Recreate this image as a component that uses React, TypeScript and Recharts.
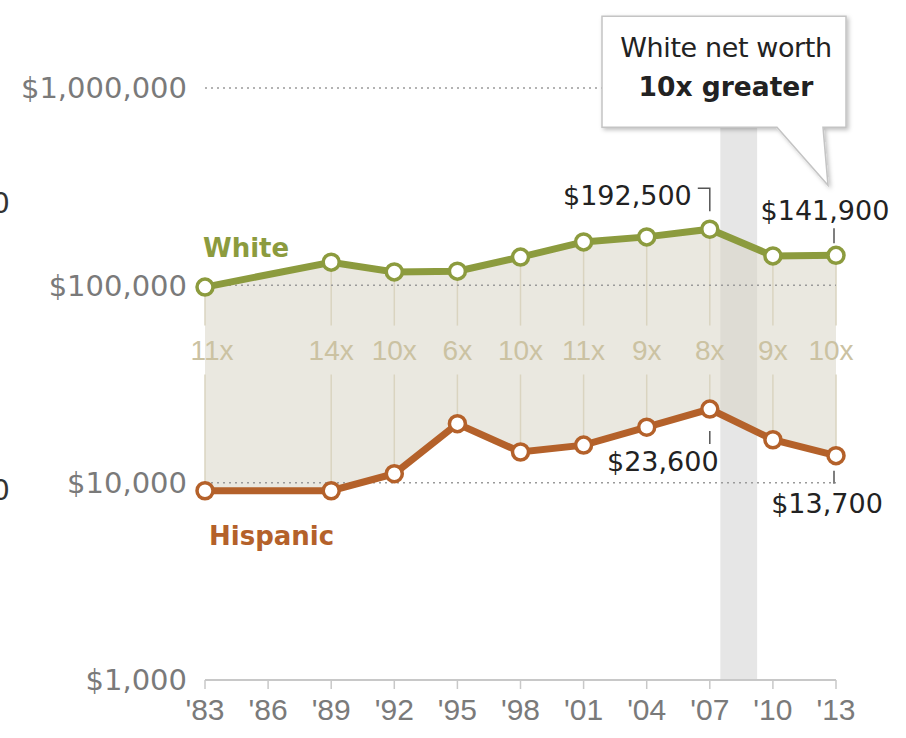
import React from "react";
import {
  ComposedChart,
  Line,
  Area,
  XAxis,
  YAxis,
  ReferenceLine,
  ReferenceArea,
  Scatter,
} from "recharts";

// median net worth, 2013 dollars
const YEARS = [1983, 1989, 1992, 1995, 1998, 2001, 2004, 2007, 2010, 2013];
const WHITE = [98000, 131000, 117000, 118000, 139000, 166000, 176000, 192500, 141000, 141900];
const HISPANIC = [9100, 9100, 11100, 19900, 14300, 15500, 19100, 23600, 16500, 13700];
const RATIOS = ["11x", "14x", "10x", "6x", "10x", "11x", "9x", "8x", "9x", "10x"];

const X_TICKS = [1983, 1986, 1989, 1992, 1995, 1998, 2001, 2004, 2007, 2010, 2013];
const Y_TICKS = [1000, 10000, 100000, 1000000];
const GRID_VALUES = [10000, 100000, 1000000];
const RECESSION = [2007.5, 2009.25];
const RATIO_LEVEL = 47000;
// gap left in the thin year lines around the ratio labels
const RATIO_GAP = [RATIO_LEVEL / 1.33, RATIO_LEVEL * 1.33];

const GREEN = "#8c9b3e";
const BROWN = "#b4612a";
const RATIO_COLOR = "#cbc2a2";
const AXIS_TEXT = "#7a7a7a";
const FONT = "'DejaVu Sans', sans-serif";
const NARROW = "'Liberation Sans', Arial, sans-serif";

const rows = YEARS.map((year, i) => ({
  year,
  white: WHITE[i],
  hispanic: HISPANIC[i],
  gap: [HISPANIC[i], WHITE[i]],
}));

const ratioRows = YEARS.map((year, i) => ({ year, pos: RATIO_LEVEL, label: RATIOS[i], i }));

const money = (v: number) => "$" + v.toLocaleString("en-US");

const notes = [
  { year: YEARS[7], pos: WHITE[7], kind: "bracket" },
  { year: YEARS[9], pos: WHITE[9], kind: "above" },
  { year: YEARS[7], pos: HISPANIC[7], kind: "belowLeft" },
  { year: YEARS[9], pos: HISPANIC[9], kind: "below" },
];

const names = [
  { year: YEARS[0], pos: WHITE[0], name: "White", color: GREEN, dx: -2, dy: -30 },
  { year: YEARS[0], pos: HISPANIC[0], name: "Hispanic", color: BROWN, dx: 4, dy: 54 },
];

const noteText = { fontFamily: FONT, fontSize: 27, fill: "#222" };

function NoteShape(props: any) {
  const { cx, cy, payload } = props;
  const t = money(payload.pos);
  if (payload.kind === "bracket") {
    return (
      <g>
        <path d={`M${cx - 12} ${cy - 41} H${cx} V${cy - 18}`} fill="none" stroke="#555" strokeWidth={1.5} />
        <text x={cx - 18} y={cy - 24} textAnchor="end" {...noteText}>{t}</text>
      </g>
    );
  }
  if (payload.kind === "above") {
    return (
      <g>
        <line x1={cx - 2} x2={cx - 2} y1={cy - 27} y2={cy - 12} stroke="#555" strokeWidth={1.5} />
        <text x={cx - 11} y={cy - 35} textAnchor="middle" {...noteText}>{t}</text>
        {/* callout box */}
        <g filter="url(#shadow)">
          <path
            d={`M${cx - 234} ${cy - 239} H${cx + 10} V${cy - 128} H${cx - 13} L${cx - 8} ${cy - 70} L${cx - 59} ${cy - 128} H${cx - 234} Z`}
            fill="#fff"
            stroke="#c4c4c4"
            strokeWidth={1.5}
          />
        </g>
        <text x={cx - 110} y={cy - 198} textAnchor="middle" fontFamily={FONT} fontSize={27} fill="#222" letterSpacing={-0.4}>
          White net worth
        </text>
        <text x={cx - 110} y={cy - 159} textAnchor="middle" fontFamily={FONT} fontSize={26.5} fontWeight="bold" fill="#222">
          10x greater
        </text>
      </g>
    );
  }
  if (payload.kind === "belowLeft") {
    return (
      <g>
        <line x1={cx} x2={cx} y1={cy + 22} y2={cy + 35} stroke="#555" strokeWidth={1.5} />
        <text x={cx - 47} y={cy + 62} textAnchor="middle" {...noteText}>{t}</text>
      </g>
    );
  }
  return (
    <g>
      <line x1={cx - 2} x2={cx - 2} y1={cy + 15} y2={cy + 28} stroke="#555" strokeWidth={1.5} />
      <text x={cx - 9} y={cy + 57} textAnchor="middle" {...noteText}>{t}</text>
    </g>
  );
}

function RatioShape(props: any) {
  const { cx, cy, payload } = props;
  const shift = payload.i === 0 ? 7 : payload.i === YEARS.length - 1 ? -5 : 0;
  return (
    <text x={cx + shift} y={cy + 10} textAnchor="middle" fontFamily={NARROW} fontSize={28} fill={RATIO_COLOR}>
      {payload.label}
    </text>
  );
}

function NameShape(props: any) {
  const { cx, cy, payload } = props;
  return (
    <text x={cx + payload.dx} y={cy + payload.dy} fontFamily={FONT} fontSize={26} fontWeight="bold" fill={payload.color}>
      {payload.name}
    </text>
  );
}

const fragment: React.CSSProperties = {
  position: "absolute",
  left: -8,
  fontFamily: FONT,
  fontSize: 28,
  color: "#333",
  lineHeight: 1,
};

export default function App() {
  return (
    <div style={{ position: "absolute", left: 0, top: 0, width: 906, height: 738, overflow: "hidden", background: "#fff" }}>
      <span style={{ ...fragment, top: 190 }}>0</span>
      <span style={{ ...fragment, top: 477 }}>0</span>
      <ComposedChart
        width={906}
        height={738}
        data={rows}
        margin={{ top: 88, right: 70, bottom: 0, left: 15 }}
      >
        <defs>
          <filter id="shadow" x="-10%" y="-10%" width="130%" height="140%">
            <feDropShadow dx="2" dy="2" stdDeviation="2" floodColor="#000" floodOpacity="0.25" />
          </filter>
        </defs>
        <XAxis
          dataKey="year"
          type="number"
          domain={[1983, 2013]}
          ticks={X_TICKS}
          tickFormatter={(v: number) => "'" + String(v).slice(2)}
          axisLine={{ stroke: "#c8c8c8", strokeWidth: 2 }}
          tickLine={{ stroke: "#c8c8c8", strokeWidth: 1.5 }}
          tickSize={9}
          tickMargin={10}
          height={58}
          tick={{ fontFamily: NARROW, fontSize: 30, fill: AXIS_TEXT }}
        />
        <YAxis
          scale="log"
          type="number"
          domain={[1000, 1000000]}
          ticks={Y_TICKS}
          tickFormatter={(v: number) => money(v)}
          axisLine={false}
          tickLine={false}
          tickSize={8}
          tickMargin={10}
          width={190}
          tick={{ fontFamily: FONT, fontSize: 29, fill: AXIS_TEXT }}
        />
        <ReferenceArea
          x1={RECESSION[0]}
          x2={RECESSION[1]}
          y1={1000}
          y2={1000000}
          fill="#e6e6e6"
          fillOpacity={1}
          stroke="none"
        />
        <Area
          dataKey="gap"
          type="linear"
          stroke="none"
          fill="#d6d2c2"
          fillOpacity={0.5}
          isAnimationActive={false}
        />
        {YEARS.map((y, i) => (
          <ReferenceLine
            key={"lo" + y}
            segment={[
              { x: y, y: HISPANIC[i] },
              { x: y, y: RATIO_GAP[0] },
            ]}
            stroke="#dad4c0"
            strokeWidth={1.5}
          />
        ))}
        {YEARS.map((y, i) => (
          <ReferenceLine
            key={"hi" + y}
            segment={[
              { x: y, y: RATIO_GAP[1] },
              { x: y, y: WHITE[i] },
            ]}
            stroke="#dad4c0"
            strokeWidth={1.5}
          />
        ))}
        {GRID_VALUES.map((v) => (
          <ReferenceLine key={"g" + v} y={v} stroke="#9a9a9a" strokeWidth={1.5} strokeDasharray="2 4" />
        ))}
        <Scatter data={ratioRows} dataKey="pos" shape={<RatioShape />} isAnimationActive={false} />
        <Line
          dataKey="white"
          type="linear"
          stroke={GREEN}
          strokeWidth={7}
          dot={{ r: 8, fill: "#fff", stroke: GREEN, strokeWidth: 3.5 }}
          isAnimationActive={false}
        />
        <Line
          dataKey="hispanic"
          type="linear"
          stroke={BROWN}
          strokeWidth={7}
          dot={{ r: 8, fill: "#fff", stroke: BROWN, strokeWidth: 3.5 }}
          isAnimationActive={false}
        />
        <Scatter data={names} dataKey="pos" shape={<NameShape />} isAnimationActive={false} />
        <Scatter data={notes} dataKey="pos" shape={<NoteShape />} isAnimationActive={false} />
      </ComposedChart>
    </div>
  );
}
